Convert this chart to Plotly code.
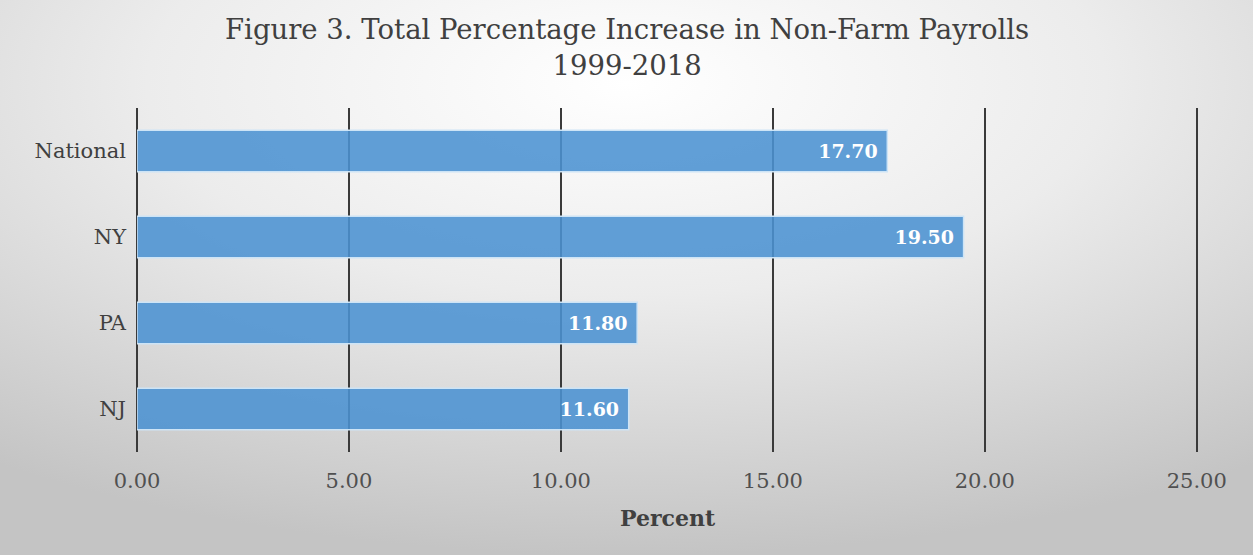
import plotly.graph_objects as go
import urllib.parse

categories = ["National", "NY", "PA", "NJ"]
values = [17.70, 19.50, 11.80, 11.60]
tick_vals = [0, 5, 10, 15, 20, 25]
tick_text = ["0.00", "5.00", "10.00", "15.00", "20.00", "25.00"]
title_text = "Figure 3. Total Percentage Increase in Non-Farm Payrolls<br>1999-2018"

W, H = 1253, 555
L, R, T, B = 137, 55, 108, 103
pw, ph = W - L - R, H - T - B

svg = (
    "<svg xmlns='http://www.w3.org/2000/svg' width='1253' height='555' viewBox='0 0 1253 555' preserveAspectRatio='none'>"
    "<defs><radialGradient id='g' cx='50%' cy='15%' r='85%' fx='50%' fy='15%'>"
    "<stop offset='0' stop-color='#ffffff'/>"
    "<stop offset='0.45' stop-color='#ececec'/>"
    "<stop offset='1' stop-color='#c4c4c4'/>"
    "</radialGradient></defs>"
    "<rect width='1253' height='555' fill='url(#g)'/></svg>"
)
src = "data:image/svg+xml;charset=utf-8," + urllib.parse.quote(svg)

fig = go.Figure()
fig.add_trace(go.Bar(
    x=values, y=categories, orientation="h",
    marker=dict(color="rgba(75,146,210,0.88)", line=dict(color="rgba(205,228,246,1)", width=1.5)),
    text=[f"{v:.2f}\u00a0" for v in values],
    textposition="inside", insidetextanchor="end",
    textfont=dict(family="DejaVu Serif", size=19, color="white", weight="bold"),
    cliponaxis=False,
))

fig.update_layout(
    width=W, height=H,
    margin=dict(l=L, r=R, t=T, b=B),
    paper_bgcolor="#e8e8e8",
    plot_bgcolor="rgba(0,0,0,0)",
    bargap=0.52,
    showlegend=False,
    images=[dict(
        source=src, xref="paper", yref="paper",
        x=-L / pw, y=1 + T / ph, sizex=W / pw, sizey=H / ph,
        xanchor="left", yanchor="top", sizing="stretch", layer="below",
    )],
    annotations=[dict(
        text=title_text, xref="paper", yref="paper",
        x=(W / 2 - L) / pw, y=1 + (T - 47) / ph,
        xanchor="center", yanchor="middle", showarrow=False,
        font=dict(family="DejaVu Serif", size=27.5, color="#404040"),
    )],
    font=dict(family="DejaVu Serif", color="#404040"),
)

fig.update_xaxes(
    range=[0, 25.03], tickvals=tick_vals, ticktext=tick_text,
    showgrid=True, gridcolor="#3a3a3a", gridwidth=2,
    zeroline=True, zerolinecolor="#3a3a3a", zerolinewidth=2,
    showline=False, ticks="",
    tickfont=dict(family="DejaVu Serif", size=21, color="#505050"),
    ticklabelstandoff=14,
    title=dict(text="<b>Percent</b>", font=dict(family="DejaVu Serif", size=22, color="#404040"), standoff=18),
)
fig.update_yaxes(
    autorange="reversed", showgrid=False, showline=False, ticks="",
    tickfont=dict(family="DejaVu Serif", size=21, color="#404040"),
    ticklabelstandoff=10,
)

fig.write_html("out.html")
